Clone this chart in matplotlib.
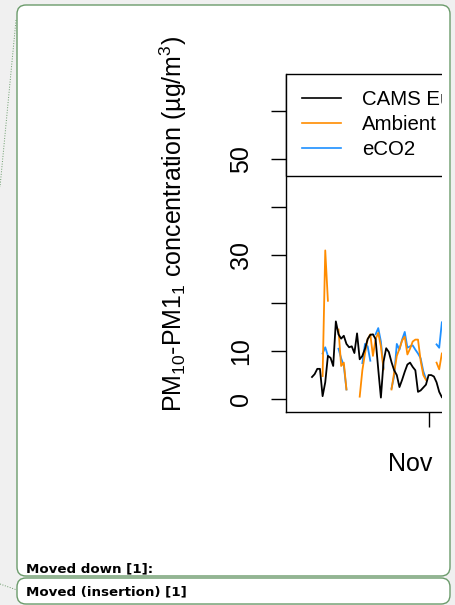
import numpy as np
import matplotlib
matplotlib.use("Agg")
import matplotlib.pyplot as plt
import matplotlib.dates as mdates
import matplotlib.transforms as mtransforms
from matplotlib.patches import FancyBboxPatch, Rectangle
from matplotlib.lines import Line2D

plt.rcParams['font.family'] = ['Liberation Sans', 'DejaVu Sans']
plt.rcParams['mathtext.fontset'] = 'custom'
plt.rcParams['mathtext.rm'] = 'Liberation Sans'
plt.rcParams['mathtext.it'] = 'Liberation Sans:italic'

nan = np.nan

# daily values, 18 Sep -> 6 Nov (rest of the series is cut off in the picture)
dates = np.arange(np.datetime64('2019-09-18'), np.datetime64('2019-11-07'))
cams = [4.6, 5.2, 6.3, 6.3, 0.6, 3.5, 9.0, 8.6, 6.9, 16.2,
        13.5, 12.6, 13.2, 11.5, 10.8, 11.0, 9.6, 13.7, 8.3, 9.0,
        10.5, 12.5, 13.4, 13.5, 12.5, 6.2, 0.3, 7.8, 10.6, 9.8,
        7.7, 6.0, 5.0, 2.5, 4.0, 5.7, 7.2, 7.6, 6.7, 6.0,
        1.5, 1.8, 2.4, 3.0, 5.0, 5.0, 4.7, 3.5, 1.5, 0.4]
ambient = [nan, nan, nan, nan, 4.8, 31.0, 20.5, nan, nan, nan,
           14.5, 6.9, 7.6, 2.0, nan, nan, nan, nan, 0.5, 6.0,
           9.5, 12.5, 13.5, 9.0, 12.5, 13.8, 11.0, 6.2, nan, nan,
           2.0, 5.5, 9.0, 10.5, 12.2, 13.0, 9.3, 10.5, 12.0, 12.4,
           12.4, 8.0, 5.0, 4.0, nan, nan, nan, 7.6, 6.2, 9.5]
eco2 = [nan, nan, nan, nan, 9.5, 10.8, 9.0, nan, nan, nan,
        10.5, 8.5, 7.0, 2.0, nan, nan, nan, nan, nan, 7.5,
        11.5, 11.0, 8.0, nan, 13.5, 14.8, 12.0, 6.5, nan, nan,
        2.2, 4.8, 11.5, 10.3, 12.4, 14.0, 10.7, 11.0, 11.2, 10.3,
        9.5, 8.5, 5.8, 4.2, nan, nan, nan, 11.4, 10.7, 16.0]

series_names = ["CAMS Europe", "Ambient", "eCO2"]
series_colors = ["black", "darkorange", "dodgerblue"]
y_ticks = [0, 10, 20, 30, 40, 50, 60]
y_tick_labels = ["0", "10", "", "30", "", "50", ""]
x_tick_dates = [np.datetime64('2019-11-01')]
x_tick_labels = ["Nov"]
y_label = r"PM$_{\mathrm{10}}$-PM1$_{\mathrm{1}}$ concentration (µg/m$^{\mathrm{3}}$)"

W, H = 456, 605
GREEN = '#6b9b6b'
fig = plt.figure(figsize=(W / 100, H / 100), dpi=100)
fig.patch.set_facecolor('#f0f0f0')
inch = fig.dpi_scale_trans

# outer note boxes (pixel positions from the top-left, converted to inches)
def box(x0, top, x1, bottom, **kw):
    return FancyBboxPatch((x0 / 100, (H - bottom) / 100), (x1 - x0) / 100, (bottom - top) / 100,
                          boxstyle="round,pad=0,rounding_size=0.09", transform=inch, **kw)

fig.add_artist(box(17, 5, 450, 576, facecolor='white', edgecolor='none', zorder=-1))
fig.add_artist(box(17, 578, 450, 604, facecolor='white', edgecolor='none', zorder=-1))

# chart
ax = fig.add_axes([286 / W, (H - 412) / H, (442 - 286) / W, (412 - 74) / H])
ax.set_facecolor('white')
x = mdates.date2num(dates)
x0 = x[0]
px_day = 2.65
ax.set_xlim(x0 - 26 / px_day, x0 + 130 / px_day)
ax.set_ylim(-2.7, 67.8)

h_eco2, = ax.plot(x, eco2, color=series_colors[2], lw=1.3)
h_amb, = ax.plot(x, ambient, color=series_colors[1], lw=1.3)
h_cams, = ax.plot(x, cams, color=series_colors[0], lw=1.3)

for s in ['top', 'right']:
    ax.spines[s].set_visible(False)
for s in ['left', 'bottom']:
    ax.spines[s].set_linewidth(1.0)

ax.set_yticks(y_ticks, y_tick_labels)
ax.tick_params(axis='y', length=10.8, width=1.0, pad=13, labelsize=18, labelrotation=90)
for lab in ax.get_yticklabels():
    lab.set_va('center')

ax.set_xticks(mdates.date2num(x_tick_dates), x_tick_labels)
ax.tick_params(axis='x', length=10.8, width=1.0, pad=18, labelsize=18)
shift = mtransforms.ScaledTranslation(-0.18, 0, inch)
for lab in ax.get_xticklabels():
    lab.set_transform(lab.get_transform() + shift)

leg = ax.legend([h_cams, h_amb, h_eco2], series_names, loc='upper left',
                bbox_to_anchor=(0, 1), borderaxespad=0, fontsize=14.7,
                fancybox=False, edgecolor='black', framealpha=1,
                handlelength=1.9, handletextpad=1.02, borderpad=0.8,
                labelspacing=0.29)
leg.get_frame().set_linewidth(1.0)
for ln in leg.get_lines():
    ln.set_linewidth(1.2)

fig.text(173 / 100, (H - 224) / 100, y_label, rotation=90, ha='center', va='center',
         fontsize=18, transform=inch)

# the chart is cropped on the right by the note box
fig.add_artist(Rectangle((442 / 100, (H - 490) / 100), 8.5 / 100, 440 / 100,
                         transform=inch, facecolor='white', edgecolor='none', zorder=5))
fig.add_artist(Rectangle((450.5 / 100, (H - 490) / 100), 6 / 100, 440 / 100,
                         transform=inch, facecolor='#f0f0f0', edgecolor='none', zorder=5))

fig.add_artist(box(17, 5, 450, 576, facecolor='none', edgecolor=GREEN, lw=1.0, zorder=6))
fig.add_artist(box(17, 578, 450, 604, facecolor='none', edgecolor=GREEN, lw=1.0, zorder=6))

# connector dotted lines
fig.add_artist(Line2D([0.16, 0.0], [(H - 20) / 100, (H - 187) / 100], transform=inch,
                      color=GREEN, lw=0.7, ls=':', zorder=6))
fig.add_artist(Line2D([0.0, 0.17], [(H - 584) / 100, (H - 590) / 100], transform=inch,
                      color=GREEN, lw=0.7, ls=':', zorder=6))

fig.text(26 / 100, (H - 569) / 100, "Moved down [1]:", family='DejaVu Sans',
         fontweight='bold', fontsize=9.6, va='center', transform=inch, zorder=7)
fig.text(26 / 100, (H - 592) / 100, "Moved (insertion) [1]", family='DejaVu Sans',
         fontweight='bold', fontsize=9.6, va='center', transform=inch, zorder=7)

fig.savefig('out.png', dpi=100, facecolor=fig.get_facecolor())
